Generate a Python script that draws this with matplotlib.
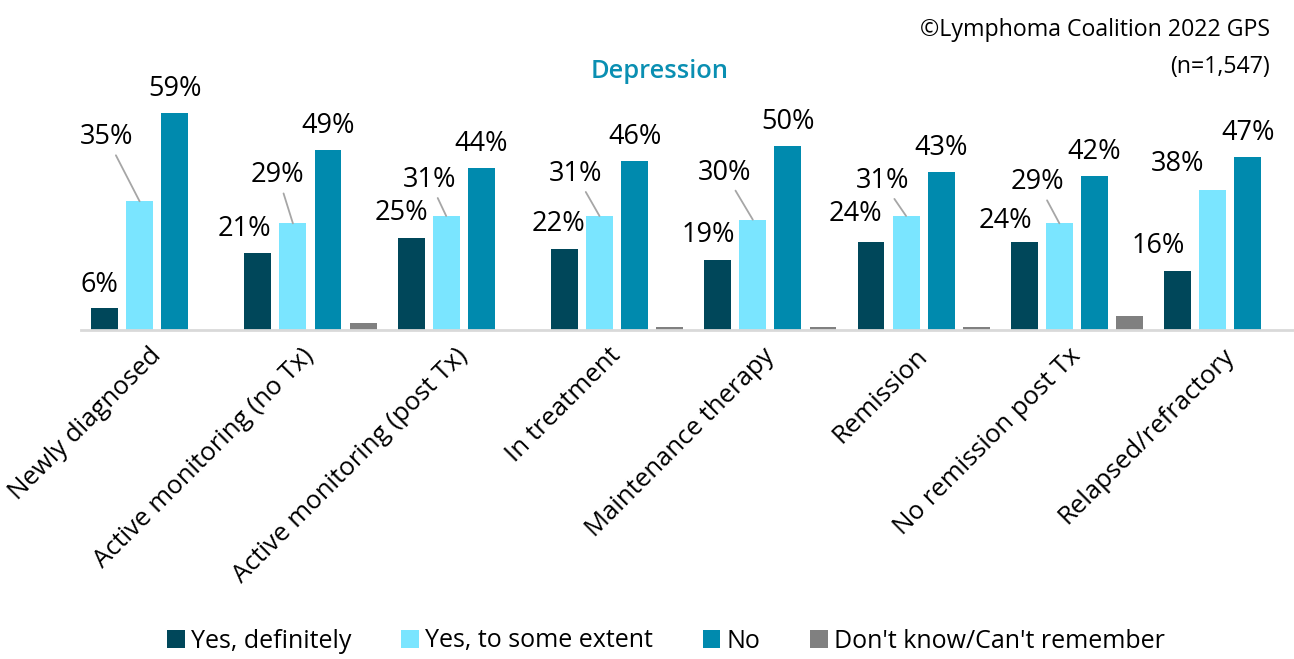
import matplotlib
matplotlib.use("Agg")
import matplotlib.pyplot as plt
import numpy as np

categories = ["Newly diagnosed", "Active monitoring (no Tx)", "Active monitoring (post Tx)",
              "In treatment", "Maintenance therapy", "Remission", "No remission post Tx",
              "Relapsed/refractory"]
series_names = ["Yes, definitely", "Yes, to some extent", "No", "Don't know/Can't remember"]
yes_def = [6, 21, 25, 22, 19, 24, 24, 16]
yes_some = [35, 29, 31, 31, 30, 31, 29, 38]
no_vals = [59, 49, 44, 46, 50, 43, 42, 47]
dont_know = [0, 1.8, 0, 0.8, 0.8, 0.8, 3.8, 0]

colors = ["#00475A", "#7AE5FF", "#008AAE", "#808080"]

# label offsets (pixels, from bar top centre) - styling only
dark_off = [(-5, 23), (-13, 24), (-10, 25), (-6, 25), (-9, 25), (-16, 28), (-19, 21), (-19, 25)]
light_off = [(-33, 64), (-15, 48), (-17, 36), (-24, 42), (-28, 47), (-24, 35), (-22, 41), (-35, 26)]
light_leader = [True, True, True, True, True, True, True, False]
no_dy = 24

plt.rcParams['font.family'] = ['Open Sans', 'DejaVu Sans']

W, H = 1294, 659
fig = plt.figure(figsize=(W / 100, H / 100), dpi=100)
left_px, right_px = 80.5, 1294
bottom_px = 330
ymax = 62
pxper = 3.678
ax = fig.add_axes([left_px / W, 1 - bottom_px / H, (right_px - left_px) / W, ymax * pxper / H])

x = np.arange(len(categories))
step = 0.229
width = 0.176
data = [yes_def, yes_some, no_vals, dont_know]
bars = []
for k, vals in enumerate(data):
    b = ax.bar(x + (k - 1.5) * step, vals, width=width, color=colors[k], label=series_names[k],
               zorder=3)
    bars.append(b)

ax.set_xlim(-0.5, -0.5 + (right_px - left_px) / 153.3)
ax.set_ylim(0, ymax)

fs = 19.5
# dark labels
for i, r in enumerate(bars[0]):
    cx = r.get_x() + r.get_width() / 2
    ax.annotate(f"{yes_def[i]}%", xy=(cx, r.get_height()), xytext=dark_off[i],
                textcoords='offset pixels', ha='center', va='center', fontsize=fs, color='#000000')
# light labels
for i, r in enumerate(bars[1]):
    cx = r.get_x() + r.get_width() / 2
    ap = dict(arrowstyle='-', color='#A6A6A6', lw=1.3, shrinkA=1, shrinkB=0) if light_leader[i] else None
    ax.annotate(f"{yes_some[i]}%", xy=(cx, r.get_height()), xytext=light_off[i],
                textcoords='offset pixels', ha='center', va='center', fontsize=fs, color='#000000',
                arrowprops=ap)
# no labels
for i, r in enumerate(bars[2]):
    cx = r.get_x() + r.get_width() / 2
    ax.annotate(f"{no_vals[i]}%", xy=(cx, r.get_height()), xytext=(0, no_dy),
                textcoords='offset pixels', ha='center', va='center', fontsize=fs, color='#000000')

for s in ['top', 'right', 'left']:
    ax.spines[s].set_visible(False)
ax.spines['bottom'].set_color('#D9D9D9')
ax.spines['bottom'].set_linewidth(2)
ax.spines['bottom'].set_zorder(4)
ax.set_yticks([])
ax.set_xticks(x)
ax.set_xticklabels(categories, rotation=45, ha='right', va='center', rotation_mode='anchor',
                   fontsize=18.5)
ax.tick_params(axis='x', length=0, pad=16)

fig.text(660 / W, 1 - 71 / H, "Depression", ha='center', va='center', fontsize=18.4,
         fontweight='semibold', color='#0A8FB2')
fig.text(1270 / W, 1 - 30 / H, "©Lymphoma Coalition 2022 GPS", ha='right', va='center',
         fontsize=16.7, color='#000000')
fig.text(1270 / W, 1 - 67 / H, "(n=1,547)", ha='right', va='center', fontsize=16.7, color='#000000')

leg = fig.legend(handles=bars, labels=series_names, loc='center', bbox_to_anchor=(666 / W, 1 - 641 / H),
                 ncol=4, frameon=False, fontsize=18, handlelength=0.7, handleheight=0.7,
                 handletextpad=0.25, columnspacing=2.0)

fig.savefig("out.png", dpi=100)
